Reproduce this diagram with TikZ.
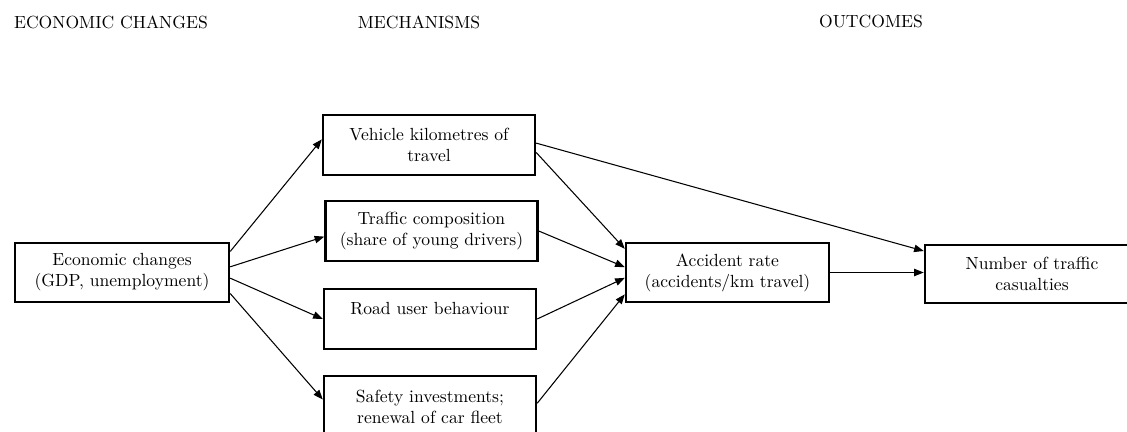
\documentclass[tikz,border=0pt]{standalone}
\usepackage{tikz}
\usetikzlibrary{positioning, arrows.meta, calc}
\usepackage{xcolor}
\tikzset{
	->,
	>={Triangle[length=5.5pt,width=4.2pt]},
	every edge/.style={draw, semithick},
	box/.style={draw, line width=1.4pt, align=center, inner sep=1pt,
		minimum width=4.24cm, minimum height=1.2cm},
	heading/.style={inner sep=0pt, anchor=center}}

\begin{document}
\begin{tikzpicture}[x=0.02cm, y=-0.02cm]
		\useasboundingbox (0,0) rectangle (1127,432);
		
		% column headings
		\node[heading] (hecon) at (111,22) {ECONOMIC CHANGES};
		\node[heading] (hmech) at (419,22) {MECHANISMS};
		\node[heading] (hout) at (871,22) {OUTCOMES};
		
		\node[box, minimum width=4.28cm, minimum height=1.18cm] (econ) at (122,272.5) {Economic changes\\(GDP, unemployment)};
		\node[box] (veh) at (429,145) {Vehicle kilometres of\\travel};
		\node[box] (comp) at (431.5,231) {Traffic composition\\(share of young drivers)};
		\node[box] (road) at (430,319) {Road user behaviour\\\mbox{}};
		\node[box, minimum height=1.24cm] (safe) at (430,407) {Safety investments;\\renewal of car fleet};
		\node[box, minimum width=4.06cm, minimum height=1.18cm] (acc) at (727.5,272.5) {Accident rate\\(accidents/km travel)};
		\node[box, minimum width=4.28cm, minimum height=1.16cm] (num) at (1032,274) {Number of traffic\\casualties};
		
		\path
		(econ.11) edge (veh.177)
		(econ.3) edge (comp.183)
		(econ.-3.5) edge (road.west)
		(econ.-11) edge (safe.176)
		(veh.-4) edge (acc.167.5)
		(comp.east) edge (acc.177)
		(road.east) edge (acc.183.7)
		(safe.2) edge (acc.192.5)
		(veh.1) edge (num.168)
		(acc.east) edge (acc.east -| num.west)
		;
	\end{tikzpicture}
\end{document}
